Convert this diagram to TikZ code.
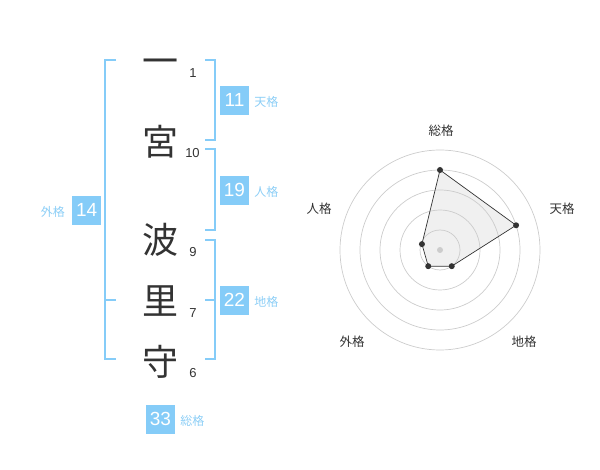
\documentclass[tikz,border=0pt]{standalone}
\usepackage{fontspec}
\setmainfont{Liberation Sans}
\newfontfamily\jpfont{Noto Sans CJK JP}
\usetikzlibrary{positioning}
\definecolor{kakublue}{RGB}{133,204,248}
\definecolor{kakutext}{RGB}{140,206,246}
\definecolor{inkgray}{RGB}{51,51,51}
\definecolor{ringgray}{RGB}{204,204,204}
\definecolor{areagray}{RGB}{240,240,240}
\newcommand{\RIGHTX}{214.5}
\newcommand{\LEFTX}{105}
\newcommand{\STUB}{9.5}
\newcommand{\BOTTOMY}{359.5}
\tikzset{
  kanji/.style={inner sep=0, text height=31.7pt, text depth=4.3pt, text=inkgray, font=\jpfont\fontsize{36}{36}\selectfont},
  strokes/.style={inner sep=0, text=inkgray, font=\fontsize{13}{13}\selectfont},
  bracket/.style={draw=kakublue, line width=2pt},
  kakubox/.style={fill=kakublue, text=white, minimum size=29pt, inner sep=0, font=\fontsize{19}{19}\selectfont},
  kakulabel/.style={inner sep=0, text=kakutext, font=\jpfont\fontsize{12}{12}\selectfont},
  ringline/.style={draw=ringgray, line width=0.7pt},
  axislabel/.style={inner sep=0, text=inkgray, font=\jpfont\fontsize{12.5}{12.5}\selectfont},
  dot/.style={fill=inkgray},
}

\begin{document}
\begin{tikzpicture}[x=1pt, y=-1pt]
        \useasboundingbox (0,0) rectangle (600,470);

        % 名字
        \node[kanji] (c1) at (160,61) {一};
        \node[kanji] (c2) at (160,142) {宮};
        \node[kanji] (c3) at (160,240) {波};
        \node[kanji] (c4) at (160,301) {里};
        \node[kanji] (c5) at (160,362) {守};

        % 画数
        \node[strokes] (n1) at (193,73) {1};
        \node[strokes] (n2) at (192.5,153) {10};
        \node[strokes] (n3) at (193,252) {9};
        \node[strokes] (n4) at (193,313) {7};
        \node[strokes] (n5) at (193,373) {6};

        % 右边括号
        \draw[bracket] (\RIGHTX-\STUB,60) -- (\RIGHTX,60) -- (\RIGHTX,140) -- (\RIGHTX-\STUB,140); % 天格
        \draw[bracket] (\RIGHTX-\STUB,149.5) -- (\RIGHTX,149.5) -- (\RIGHTX,230) -- (\RIGHTX-\STUB,230); % 人格
        \draw[bracket] (\RIGHTX-\STUB,240) -- (\RIGHTX,240) -- (\RIGHTX,\BOTTOMY) -- (\RIGHTX-\STUB,\BOTTOMY); % 地格
        \draw[bracket] (\RIGHTX-\STUB,300) -- (\RIGHTX,300);

        % 左边括号
        \draw[bracket] (\LEFTX+11,60) -- (\LEFTX,60) -- (\LEFTX,\BOTTOMY) -- (\LEFTX+11,\BOTTOMY); % 外格
        \draw[bracket] (\LEFTX,300) -- (\LEFTX+11,300);

        % 五格
        \node[kakubox] (ten) at (234.5,100.3) {11};
        \node[kakulabel, base right=5pt of ten] (tenlabel) {天格};
        \node[kakubox] (jin) at (234.5,190.3) {19};
        \node[kakulabel, base right=5pt of jin] (jinlabel) {人格};
        \node[kakubox] (chi) at (234.5,300.3) {22};
        \node[kakulabel, base right=5pt of chi] (chilabel) {地格};
        \node[kakubox] (gai) at (86.7,210.3) {14};
        \node[kakulabel, base left=7pt of gai] (gailabel) {外格};
        \node[kakubox] (sou) at (160.5,419.3) {33};
        \node[kakulabel, base right=5pt of sou] (soulabel) {総格};

        % 雷达图
        \coordinate (ctr) at (440,250);
        \coordinate (psou) at ([shift={(-90:80)}]ctr);
        \coordinate (pten) at ([shift={(-18:80)}]ctr);
        \coordinate (pchi) at ([shift={(54:20)}]ctr);
        \coordinate (pgai) at ([shift={(126:20)}]ctr);
        \coordinate (pjin) at ([shift={(-162:19)}]ctr);
        \fill[areagray] (psou) -- (pten) -- (pchi) -- (pgai) -- (pjin) -- cycle;
        \foreach \r in {20,40,...,100}
            \draw[ringline] (ctr) circle (\r);
        \draw[inkgray, line width=0.7pt] (psou) -- (pten) -- (pchi) -- (pgai) -- (pjin) -- cycle;
        \foreach \p in {psou,pten,pchi,pgai,pjin}
            \fill[dot] (\p) circle (3);
        \fill[ringgray] (ctr) circle (3); % 中心

        \node[axislabel] (axsou) at (441,131) {総格};
        \node[axislabel] (axten) at (562,209) {天格};
        \node[axislabel] (axjin) at (319,209) {人格};
        \node[axislabel] (axgai) at (352,342) {外格};
        \node[axislabel] (axchi) at (524,342) {地格};

    \end{tikzpicture}
\end{document}
